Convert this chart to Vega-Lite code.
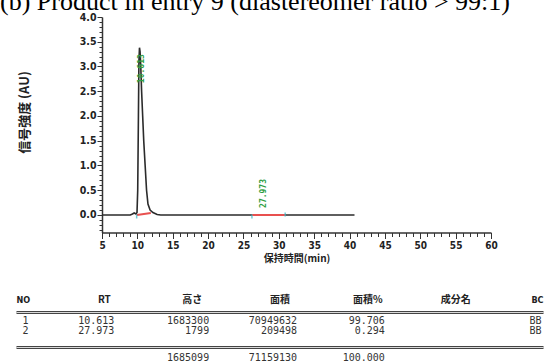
{
  "$schema": "https://vega.github.io/schema/vega-lite/v6.json",
  "background": "white",
  "padding": {"left": 0, "top": -12, "right": 0, "bottom": 0},
  "title": {
    "text": "(b) Product in entry 9 (diastereomer ratio > 99:1)",
    "anchor": "start",
    "font": "Liberation Serif",
    "fontSize": 26,
    "fontWeight": "normal",
    "color": "#000000",
    "dx": -15,
    "offset": -23.5,
    "baseline": "alphabetic"
  },
  "config": {
    "view": {"stroke": null},
    "axis": {"grid": false}
  },
  "datasets": {
    "trace": [
      {"t": 5.0, "v": 0.0}, {"t": 9.0, "v": 0.0}, {"t": 9.3, "v": 0.02}, {"t": 9.55, "v": 0.04},
      {"t": 9.8, "v": 0.02}, {"t": 9.95, "v": 0.05}, {"t": 10.05, "v": 0.5}, {"t": 10.15, "v": 2.0},
      {"t": 10.22, "v": 3.1}, {"t": 10.3, "v": 3.38}, {"t": 10.38, "v": 3.3}, {"t": 10.47, "v": 3.05},
      {"t": 10.6, "v": 2.5}, {"t": 10.75, "v": 2.0}, {"t": 10.9, "v": 1.5}, {"t": 11.1, "v": 1.0},
      {"t": 11.3, "v": 0.5}, {"t": 11.5, "v": 0.22}, {"t": 11.8, "v": 0.1}, {"t": 12.2, "v": 0.05},
      {"t": 12.8, "v": 0.01}, {"t": 13.3, "v": 0.0}, {"t": 26.5, "v": 0.0}, {"t": 28.0, "v": 0.004},
      {"t": 29.5, "v": 0.0}, {"t": 40.7, "v": 0.0}
    ],
    "integ": [
      {"peak": 1, "t": 9.95, "v": 0.0}, {"peak": 1, "t": 11.9, "v": 0.04},
      {"peak": 2, "t": 26.2, "v": 0.0}, {"peak": 2, "t": 30.9, "v": 0.0}
    ],
    "markers": [
      {"t": 9.9, "v": -0.03}, {"t": 26.2, "v": -0.03}, {"t": 30.9, "v": 0.01}
    ],
    "peaks": [
      {"peak": 1, "t": 10.613, "v": 3.38, "label": "10.613"},
      {"peak": 2, "t": 27.973, "v": 0.0, "label": "27.973"}
    ],
    "lines": [{"line": "line1"}, {"line": "line2"}],
    "table": [
      {"row": "header", "col": "NO", "text": "NO"},
      {"row": "header", "col": "RT", "text": "RT"},
      {"row": "header", "col": "高さ", "text": "高さ"},
      {"row": "header", "col": "面積", "text": "面積"},
      {"row": "header", "col": "面積%", "text": "面積%"},
      {"row": "header", "col": "成分名", "text": "成分名"},
      {"row": "header", "col": "BC", "text": "BC"},
      {"row": "1", "col": "NO", "text": "1"},
      {"row": "1", "col": "RT", "text": "10.613"},
      {"row": "1", "col": "高さ", "text": "1683300"},
      {"row": "1", "col": "面積", "text": "70949632"},
      {"row": "1", "col": "面積%", "text": "99.706"},
      {"row": "1", "col": "BC", "text": "BB"},
      {"row": "2", "col": "NO", "text": "2"},
      {"row": "2", "col": "RT", "text": "27.973"},
      {"row": "2", "col": "高さ", "text": "1799"},
      {"row": "2", "col": "面積", "text": "209498"},
      {"row": "2", "col": "面積%", "text": "0.294"},
      {"row": "2", "col": "BC", "text": "BB"},
      {"row": "total", "col": "高さ", "text": "1685099"},
      {"row": "total", "col": "面積", "text": "71159130"},
      {"row": "total", "col": "面積%", "text": "100.000"}
    ]
  },
  "spacing": 69.5,
  "bounds": "flush",
  "vconcat": [
    {
      "width": 389,
      "height": 215.5,
      "encoding": {
        "x": {
          "field": "t", "type": "quantitative",
          "scale": {"domain": [5, 60], "nice": false, "zero": false},
          "axis": {
            "values": [5,6,7,8,9,10,11,12,13,14,15,16,17,18,19,20,21,22,23,24,25,26,27,28,29,30,31,32,33,34,35,36,37,38,39,40,41,42,43,44,45,46,47,48,49,50,51,52,53,54,55,56,57,58,59,60],
            "labelExpr": "datum.value % 5 === 0 ? datum.label : ''",
            "tickSize": {"condition": {"test": "datum.value % 5 === 0", "value": 6}, "value": 4},
            "labelFont": "DejaVu Sans Condensed", "labelFontWeight": "bold", "labelFontSize": 10,
            "labelColor": "#222222", "labelPadding": 2, "labelOverlap": false, "labelFlush": false,
            "domainColor": "#333333", "domainWidth": 1.5, "tickColor": "#333333", "tickWidth": 1,
            "title": "保持時間(min)", "titleFont": "Noto Sans CJK JP", "titleFontSize": 10,
            "titleFontWeight": "bold", "titleColor": "#222222", "titlePadding": 3
          }
        },
        "y": {
          "field": "v", "type": "quantitative",
          "scale": {"domain": [-0.354, 4.0], "nice": false, "zero": false},
          "axis": {
            "values": [-0.3,-0.2,-0.1,0,0.1,0.2,0.3,0.4,0.5,0.6,0.7,0.8,0.9,1.0,1.1,1.2,1.3,1.4,1.5,1.6,1.7,1.8,1.9,2.0,2.1,2.2,2.3,2.4,2.5,2.6,2.7,2.8,2.9,3.0,3.1,3.2,3.3,3.4,3.5,3.6,3.7,3.8,3.9,4.0],
            "labelExpr": "(abs(datum.value*2 - round(datum.value*2)) < 0.001 && datum.value > -0.05) ? format(datum.value, '.1f') : ''",
            "tickSize": {"condition": {"test": "abs(datum.value*2 - round(datum.value*2)) < 0.001", "value": 5}, "value": 3},
            "labelFont": "DejaVu Sans Condensed", "labelFontWeight": "bold", "labelFontSize": 10.5,
            "labelColor": "#222222", "labelPadding": 1, "labelOverlap": false, "labelFlush": false,
            "domainColor": "#333333", "domainWidth": 1.5, "tickColor": "#333333", "tickWidth": 1,
            "title": "信号強度 (AU)", "titleFont": "Noto Sans CJK JP", "titleFontSize": 13,
            "titleFontWeight": "bold", "titleColor": "#222222", "titlePadding": 48, "titleY": 95
          }
        }
      },
      "layer": [
        {
          "data": {"name": "trace"},
          "mark": {"type": "line", "color": "#2b2b2b", "strokeWidth": 1.6}
        },
        {
          "data": {"name": "integ"},
          "mark": {"type": "line", "color": "#e8504f", "strokeWidth": 2},
          "encoding": {"detail": {"field": "peak", "type": "nominal"}}
        },
        {
          "data": {"name": "markers"},
          "mark": {"type": "tick", "orient": "vertical", "color": "#34b8c8", "size": 4, "thickness": 1.5}
        },
        {
          "data": {"name": "peaks"},
          "transform": [{"filter": "datum.peak == 1"}],
          "mark": {"type": "text", "angle": 270, "align": "center", "baseline": "middle", "dx": -21, "color": "#2f9e44", "font": "DejaVu Sans Mono", "fontSize": 8, "fontWeight": "bold"},
          "encoding": {"text": {"field": "label", "type": "nominal"}}
        },
        {
          "data": {"name": "peaks"},
          "transform": [{"filter": "datum.peak == 2"}],
          "mark": {"type": "text", "angle": 270, "align": "center", "baseline": "middle", "dx": 21.5, "color": "#2f9e44", "font": "DejaVu Sans Mono", "fontSize": 8, "fontWeight": "bold"},
          "encoding": {"text": {"field": "label", "type": "nominal"}}
        }
      ]
    },
    {
      "width": 389,
      "height": 55,
      "data": {"name": "table"},
      "encoding": {
        "x": {
          "field": "col", "type": "nominal",
          "scale": {"type": "point", "domain": ["NO", "RT", "高さ", "面積", "面積%", "成分名", "BC"], "range": [-85.5, 441.5], "padding": 0},
          "axis": null
        },
        "y": {
          "field": "row", "type": "nominal",
          "scale": {"type": "point", "domain": ["header", "s1", "line1", "1", "s2", "2", "s3", "s4", "s5", "line2", "s6", "total"], "padding": 0},
          "axis": null
        }
      },
      "layer": [
        {
          "data": {"name": "lines"},
          "mark": {"type": "rule", "color": "#444444", "strokeWidth": 3},
          "encoding": {
            "y": {"field": "line", "type": "nominal"},
            "x": {"datum": "NO", "type": "nominal"},
            "x2": {"datum": "BC"}
          }
        },
        {
          "data": {"name": "lines"},
          "mark": {"type": "rule", "color": "#ffffff", "strokeWidth": 0.8},
          "encoding": {
            "y": {"field": "line", "type": "nominal"},
            "x": {"datum": "NO", "type": "nominal"},
            "x2": {"datum": "BC"}
          }
        },
        {
          "transform": [{"filter": "datum.row == 'header' && datum.col != 'NO' && datum.col != 'BC'"}],
          "mark": {"type": "text", "align": "center", "baseline": "middle", "dy": -2.5, "font": "Noto Sans CJK JP", "fontSize": 10, "fontWeight": "bold", "color": "#222222"},
          "encoding": {"text": {"field": "text", "type": "nominal"}}
        },
        {
          "transform": [{"filter": "datum.row == 'header' && datum.col == 'NO'"}],
          "mark": {"type": "text", "align": "left", "baseline": "middle", "dy": -2.5, "font": "DejaVu Sans Condensed", "fontSize": 9, "fontWeight": "bold", "color": "#222222"},
          "encoding": {"text": {"field": "text", "type": "nominal"}}
        },
        {
          "transform": [{"filter": "datum.row == 'header' && datum.col == 'BC'"}],
          "mark": {"type": "text", "align": "right", "baseline": "middle", "dy": -2.5, "font": "DejaVu Sans Condensed", "fontSize": 9, "fontWeight": "bold", "color": "#222222"},
          "encoding": {"text": {"field": "text", "type": "nominal"}}
        },
        {
          "transform": [{"filter": "(datum.row == '1' || datum.row == '2') && datum.col == 'RT'"}],
          "mark": {"type": "text", "align": "right", "baseline": "middle", "dx": 10, "dy": 3, "font": "DejaVu Sans Mono", "fontSize": 10, "color": "#333333"},
          "encoding": {"text": {"field": "text", "type": "nominal"}}
        },
        {
          "transform": [{"filter": "(datum.row == '1' || datum.row == '2') && (datum.col == '高さ' || datum.col == '面積' || datum.col == '面積%')"}],
          "mark": {"type": "text", "align": "right", "baseline": "middle", "dx": 17, "dy": 3, "font": "DejaVu Sans Mono", "fontSize": 10, "color": "#333333"},
          "encoding": {"text": {"field": "text", "type": "nominal"}}
        },
        {
          "transform": [{"filter": "datum.row == 'total'"}],
          "mark": {"type": "text", "align": "right", "baseline": "middle", "dx": 17, "dy": 0, "font": "DejaVu Sans Mono", "fontSize": 10, "color": "#333333"},
          "encoding": {"text": {"field": "text", "type": "nominal"}}
        },
        {
          "transform": [{"filter": "(datum.row == '1' || datum.row == '2') && datum.col == 'NO'"}],
          "mark": {"type": "text", "align": "left", "baseline": "middle", "dx": 6, "dy": 3, "font": "DejaVu Sans Mono", "fontSize": 10, "color": "#333333"},
          "encoding": {"text": {"field": "text", "type": "nominal"}}
        },
        {
          "transform": [{"filter": "(datum.row == '1' || datum.row == '2') && datum.col == 'BC'"}],
          "mark": {"type": "text", "align": "right", "baseline": "middle", "dx": -2, "dy": 3, "font": "DejaVu Sans Mono", "fontSize": 10, "color": "#333333"},
          "encoding": {"text": {"field": "text", "type": "nominal"}}
        }
      ]
    }
  ]
}
